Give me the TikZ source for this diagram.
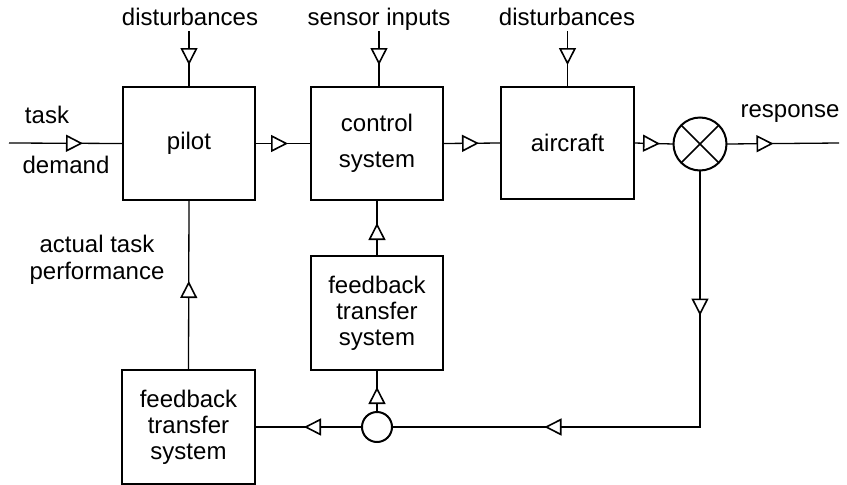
\documentclass[tikz,border=0pt]{standalone}
\usepackage{fontspec}
\setmainfont{Liberation Sans}
\usetikzlibrary{arrows.meta,decorations.markings}

\tikzset{
  blk/.style={draw, line width=2pt, inner sep=0pt, outer sep=0pt,
    minimum width=132pt, minimum height=113pt, align=center},
  junction/.style={draw, circle, line width=2pt, inner sep=0pt, outer sep=0pt},
  lbl/.style={inner sep=0pt, anchor=base, align=center},
  tri/.tip={Triangle[length=17pt,width=17pt,fill=white,line width=1.6pt]},
  flow/.style={line width=1.3pt, postaction={decorate},
    decoration={markings, mark=at position #1 with {\arrow{tri}}}},
  flowtwo/.style 2 args={line width=1.3pt, postaction={decorate},
    decoration={markings,
      mark=at position #1 with {\arrow{tri}},
      mark=at position #2 with {\arrow{tri}}}},
}

\begin{document}
\begin{tikzpicture}[x=1pt, y=-1pt, font=\fontsize{24}{26}\selectfont]
  \useasboundingbox (0,0) rectangle (847,485);

  % main blocks
  \node[blk] (pilot) at (189,143.5) {pilot};
  \node[blk] (ctrl) at (377,143.5) {control\\[10pt]system};
  \node[blk, minimum width=133pt, minimum height=112pt] (air) at (567.5,143) {aircraft};
  \node[blk, minimum height=114pt] (midfb) at (377,313) {feedback\\transfer\\system};
  \node[blk, minimum width=133pt, minimum height=114pt] (lowfb) at (188.5,427) {feedback\\transfer\\system};

  % junctions
  \node[junction, minimum size=53pt] (cross) at (700,144) {};
  \draw[line width=1.5pt] (cross.45) -- (cross.225) (cross.135) -- (cross.-45);
  \node[junction, minimum size=30pt] (sum) at (377,427) {};

  % free ends
  \coordinate (tin) at (9,143);
  \coordinate (rout) at (839,143);
  \coordinate (d1) at (189,31);
  \coordinate (s1) at (379,31);
  \coordinate (d2) at (567.5,31);
  \coordinate (corner) at (700,427);

  % labels
  \node[lbl] (ltask) at (47,123) {task};
  \node[lbl] (ldemand) at (66,173) {demand};
  \node[lbl] (lresp) at (790,117) {response};
  \node[lbl] (ldist1) at (190,25) {disturbances};
  \node[lbl] (lsens) at (379,25) {sensor inputs};
  \node[lbl] (ldist2) at (567,25) {disturbances};
  \node[lbl, font=\fontsize{24}{27}\selectfont] (lact) at (97,279) {actual task\\performance};

  % signal paths
  \draw[flow=74pt] (tin) -- (pilot.west);
  \draw[flow=33pt] (pilot.east) -- (ctrl.west);
  \draw[flow=36pt] (ctrl.east) -- (air.west);
  \draw[flow=26pt] (air.east) -- (cross.west);
  \draw[flow=47pt] (cross.east) -- (rout);

  \draw[flow=34pt] (d1) -- (pilot.north);
  \draw[flow=34pt] (s1) -- (s1 |- ctrl.north);
  \draw[flow=34pt] (d2) -- (air.north);

  \draw[flowtwo={145pt}{412pt}] (cross.south) -- (corner) -- (sum.east);
  \draw[flow=58pt] (sum.west) -- (lowfb.east);
  \draw[flow=25pt] (sum.north) -- (midfb.south);
  \draw[flow=33pt] (midfb.north) -- (ctrl.south);
  \draw[flow=89pt] (lowfb.north) -- (pilot.south);
\end{tikzpicture}
\end{document}
